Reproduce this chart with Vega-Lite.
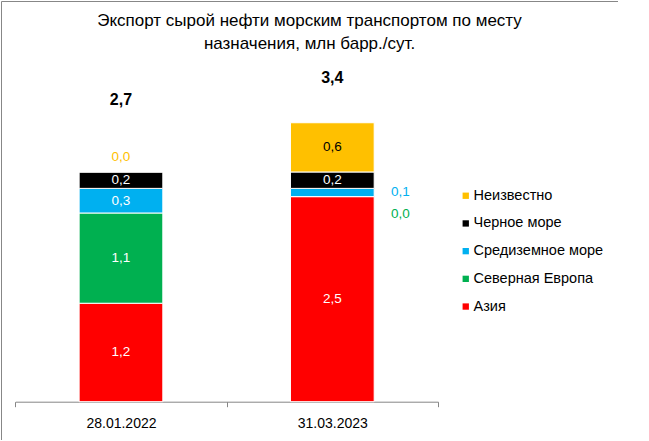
{
  "$schema": "https://vega.github.io/schema/vega-lite/v6.json",
  "width": 617,
  "height": 439,
  "autosize": {"type": "none"},
  "padding": {"left": 1, "top": 1, "right": 0, "bottom": 0},
  "background": "white",
  "config": {
    "locale": {"number": {"decimal": ",", "thousands": " ", "grouping": [3], "currency": ["", ""]}},
    "view": {"stroke": "#878787", "strokeWidth": 1},
    "font": "Liberation Sans"
  },
  "title": {
    "text": ["Экспорт сырой нефти морским транспортом по месту", "назначения, млн барр./сут."],
    "anchor": "middle",
    "frame": "group",
    "orient": "top",
    "baseline": "top",
    "offset": -52,
    "dx": 0,
    "fontSize": 17,
    "fontWeight": "normal",
    "lineHeight": 23,
    "color": "#000000",
    "font": "Liberation Sans"
  },
  "datasets": {
    "regions": [
      {"date": "28.01.2022", "region": "Азия", "idx": 1, "value": 1.2},
      {"date": "28.01.2022", "region": "Северная Европа", "idx": 2, "value": 1.1},
      {"date": "28.01.2022", "region": "Средиземное море", "idx": 3, "value": 0.3},
      {"date": "28.01.2022", "region": "Черное море", "idx": 4, "value": 0.2},
      {"date": "28.01.2022", "region": "Неизвестно", "idx": 5, "value": 0.0},
      {"date": "31.03.2023", "region": "Азия", "idx": 1, "value": 2.5},
      {"date": "31.03.2023", "region": "Северная Европа", "idx": 2, "value": 0.0},
      {"date": "31.03.2023", "region": "Средиземное море", "idx": 3, "value": 0.1},
      {"date": "31.03.2023", "region": "Черное море", "idx": 4, "value": 0.2},
      {"date": "31.03.2023", "region": "Неизвестно", "idx": 5, "value": 0.6}
    ],
    "totals": [
      {"date": "28.01.2022", "total": 2.7},
      {"date": "31.03.2023", "total": 3.4}
    ]
  },
  "layer": [
    {
      "data": {"name": "regions"},
      "transform": [
        {"stack": "value", "groupby": ["date"], "sort": [{"field": "idx", "order": "ascending"}], "as": ["v0", "v1"]},
        {"calculate": "(datum.v0 + datum.v1) / 2", "as": "mid"}
      ],
      "encoding": {
        "x": {
          "field": "date",
          "type": "nominal",
          "scale": {"range": [14.3, 437], "paddingInner": 0, "paddingOuter": 0},
          "axis": {
            "title": null,
            "labelAngle": 0,
            "offset": -38.3,
            "domainColor": "#868686",
            "tickColor": "#868686",
            "tickSize": 5,
            "tickBand": "extent",
            "labelFontSize": 14,
            "labelColor": "#000000",
            "labelPadding": 10,
            "grid": false,
            "labelFont": "Liberation Sans"
          }
        }
      },
      "layer": [
        {
          "mark": {"type": "bar", "width": {"band": 0.396}, "stroke": "white", "strokeWidth": 1},
          "encoding": {
            "y": {"field": "v0", "type": "quantitative", "scale": {"domain": [0, 4.4], "range": [400.7, 39.7], "nice": false, "zero": false}, "axis": null},
            "y2": {"field": "v1"},
            "color": {
              "field": "region",
              "type": "nominal",
              "scale": {
                "domain": ["Неизвестно", "Черное море", "Средиземное море", "Северная Европа", "Азия"],
                "range": ["#FFC000", "#000000", "#00B0F0", "#00B050", "#FF0000"]
              },
              "legend": {
                "orient": "none",
                "legendX": 457.5,
                "legendY": 187.5,
                "title": null,
                "symbolType": "square",
                "symbolSize": 40,
                "symbolStrokeWidth": 0,
                "labelFontSize": 14.5,
                "labelFont": "Liberation Sans",
                "labelColor": "#000000",
                "rowPadding": 12.7,
                "labelOffset": 0.5,
                "padding": 0
              }
            }
          }
        },
        {
          "transform": [{"filter": "datum.value >= 0.15"}],
          "mark": {"type": "text", "fontSize": 13.5, "baseline": "middle", "align": "center"},
          "encoding": {
            "y": {"field": "mid", "type": "quantitative"},
            "text": {"field": "value", "type": "quantitative", "format": ".1f"},
            "color": {"condition": {"test": "datum.region === 'Неизвестно'", "value": "#000000"}, "value": "#FFFFFF"}
          }
        },
        {
          "transform": [{"filter": "datum.region === 'Неизвестно' && datum.value < 0.15"}],
          "mark": {"type": "text", "fontSize": 13.5, "baseline": "middle", "align": "center", "dy": -15},
          "encoding": {
            "y": {"field": "v1", "type": "quantitative"},
            "text": {"field": "value", "type": "quantitative", "format": ".1f"},
            "color": {"field": "region", "type": "nominal", "legend": null}
          }
        },
        {
          "transform": [{"filter": "datum.region === 'Средиземное море' && datum.value < 0.15"}],
          "mark": {"type": "text", "fontSize": 13.5, "baseline": "middle", "align": "center", "dx": 68},
          "encoding": {
            "y": {"field": "mid", "type": "quantitative"},
            "text": {"field": "value", "type": "quantitative", "format": ".1f"},
            "color": {"field": "region", "type": "nominal", "legend": null}
          }
        },
        {
          "transform": [{"filter": "datum.region === 'Северная Европа' && datum.value < 0.15"}],
          "mark": {"type": "text", "fontSize": 13.5, "baseline": "middle", "align": "center", "dx": 68, "dy": 17},
          "encoding": {
            "y": {"field": "mid", "type": "quantitative"},
            "text": {"field": "value", "type": "quantitative", "format": ".1f"},
            "color": {"field": "region", "type": "nominal", "legend": null}
          }
        }
      ]
    },
    {
      "data": {"name": "totals"},
      "mark": {"type": "text", "fontSize": 16, "fontWeight": "bold", "baseline": "middle", "align": "center", "color": "#000000"},
      "encoding": {
        "x": {"field": "date", "type": "nominal"},
        "y": {"field": "total", "type": "quantitative", "scale": {"domain": [-7.14, 4.615], "range": [400.7, 39.7], "nice": false, "zero": false}, "axis": null},
        "text": {"field": "total", "type": "quantitative", "format": ".1f"}
      }
    }
  ],
  "resolve": {"scale": {"y": "independent"}}
}
